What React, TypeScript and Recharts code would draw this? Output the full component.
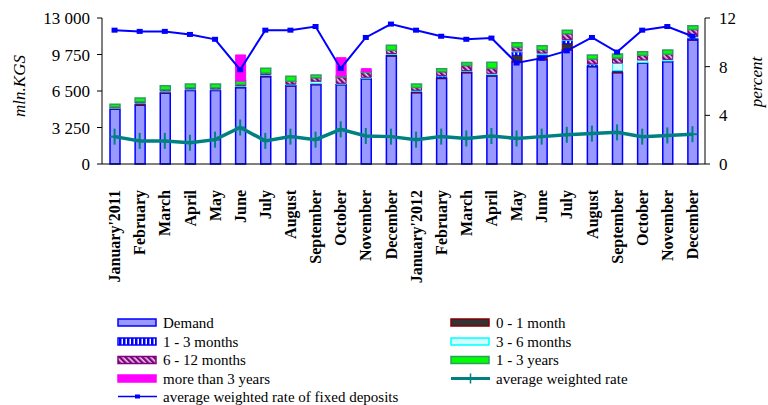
import { Bar, ComposedChart, Line, XAxis, YAxis } from "recharts";

const MONTHS = [
  "January'2011", "February", "March", "April", "May", "June", "July", "August",
  "September", "October", "November", "December",
  "January'2012", "February", "March", "April", "May", "June", "July", "August",
  "September", "October", "November", "December",
];

// mln. KGS
const DEMAND = [4870, 5230, 6300, 6540, 6540, 6795, 7775, 6945, 7060, 7050, 7580, 9616, 6350, 7620, 8130, 7835, 9080, 9290, 10150, 8665, 8130, 8965, 9110, 11040];
const M0_1 = [40, 120, 90, 40, 40, 60, 60, 60, 60, 30, 30, 100, 100, 60, 90, 90, 600, 380, 560, 30, 150, 30, 30, 30];
const M1_3 = [30, 30, 30, 30, 30, 40, 40, 30, 30, 30, 30, 30, 30, 150, 30, 30, 300, 60, 300, 150, 30, 30, 30, 150];
const M3_6 = [60, 60, 90, 80, 70, 80, 80, 80, 220, 80, 90, 90, 90, 60, 60, 120, 90, 150, 60, 60, 680, 240, 150, 150];
const M6_12 = [80, 110, 100, 100, 100, 100, 150, 260, 300, 550, 420, 300, 250, 320, 450, 450, 350, 300, 530, 450, 445, 420, 450, 600];
const Y1_3 = [240, 330, 365, 330, 340, 315, 415, 445, 255, 95, 90, 430, 303, 280, 280, 525, 380, 355, 300, 350, 360, 315, 380, 330];
const Y3_PLUS = [0, 0, 0, 0, 0, 2320, 0, 0, 0, 1630, 250, 0, 0, 0, 0, 0, 0, 0, 0, 0, 0, 0, 0, 0];

// percent
const FIXED_RATE = [11.0, 10.9, 10.9, 10.65, 10.25, 7.75, 11.0, 11.0, 11.3, 7.85, 10.4, 11.5, 11.0, 10.5, 10.25, 10.35, 8.3, 8.7, 9.3, 10.4, 9.2, 11.0, 11.3, 10.5];
const AVG_RATE = [2.25, 1.9, 1.9, 1.75, 2.0, 3.0, 1.9, 2.25, 2.0, 2.85, 2.3, 2.25, 2.0, 2.25, 2.1, 2.3, 2.1, 2.25, 2.4, 2.5, 2.6, 2.25, 2.35, 2.45];

const LEFT_TICKS = [0, 3250, 6500, 9750, 13000];
const RIGHT_TICKS = [0, 2, 4, 6, 8, 10, 12];
const EDGE_TICKS = MONTHS.map((_, i) => i).concat(MONTHS.length);

const data = MONTHS.map((month, i) => ({
  month,
  idx: i + 0.5,
  demand: DEMAND[i],
  m01: M0_1[i],
  m13: M1_3[i],
  m36: M3_6[i],
  m612: M6_12[i],
  y13: Y1_3[i],
  y3: Y3_PLUS[i],
  fixed: FIXED_RATE[i],
  avg: AVG_RATE[i],
}));

const SERIF = "'Liberation Serif', 'Times New Roman', serif";
const fmt = (v: number) => String(v).replace(/\B(?=(\d{3})+(?!\d))/g, " ");

function Patterns({ p }: { p: string }) {
  return (
    <defs>
      <pattern id={`${p}m13`} width="4" height="4" patternUnits="userSpaceOnUse">
        <rect width="4" height="4" fill="#0000FF" />
        <rect x="1.5" width="1.5" height="4" fill="#FFFFFF" />
      </pattern>
      <pattern id={`${p}m612`} width="4" height="4" patternUnits="userSpaceOnUse" patternTransform="rotate(-45)">
        <rect width="4" height="4" fill="#800080" />
        <rect x="1.5" width="1.3" height="4" fill="#FFFFFF" />
      </pattern>
    </defs>
  );
}

function MonthTick({ x, y, payload }: any) {
  const ty = y + 18;
  return (
    <text x={x} y={ty} transform={`rotate(-90 ${x} ${ty})`} textAnchor="end" dy="0.35em"
      fontFamily={SERIF} fontWeight="bold" fontSize={16} fill="#000">
      {payload.value}
    </text>
  );
}

function SquareDot({ cx, cy }: any) {
  if (cx == null || cy == null) return null;
  return <rect x={cx - 3} y={cy - 2.5} width={6} height={5} fill="#0000FF" />;
}

function CrossDot({ cx, cy }: any) {
  if (cx == null || cy == null) return null;
  return (
    <g stroke="#008080" strokeWidth={2}>
      <line x1={cx} x2={cx} y1={cy - 8} y2={cy + 8} />
      <line x1={cx - 5} x2={cx + 5} y1={cy} y2={cy} />
    </g>
  );
}

const LEGEND_LEFT = [
  { name: "Demand", fill: "#9999FF", stroke: "#0000FF" },
  { name: "1 - 3 months", fill: "url(#lgm13)", stroke: "#0000FF" },
  { name: "6 - 12 months", fill: "url(#lgm612)", stroke: "#800080" },
  { name: "more than 3 years", fill: "#FF00FF", stroke: "#FF00FF" },
  { name: "average weighted rate of fixed deposits", line: "fixed" },
];
const LEGEND_RIGHT = [
  { name: "0 - 1 month", fill: "#333333", stroke: "#800000" },
  { name: "3 - 6 months", fill: "#CCFFFF", stroke: "#00FFFF" },
  { name: "1 - 3 years", fill: "#00FF00", stroke: "#339966" },
  { name: "average weighted rate", line: "avg" },
];
const ROW_Y = [322.5, 341.5, 360, 378.5, 396.5];

function LegendItem({ item, x, y }: { item: any; x: number; y: number }) {
  let mark;
  if (item.line === "fixed") {
    mark = (
      <g>
        <line x1={x} x2={x + 39} y1={y} y2={y} stroke="#0000FF" strokeWidth={1.5} />
        <rect x={x + 17} y={y - 2} width={5} height={4} fill="#0000FF" />
      </g>
    );
  } else if (item.line === "avg") {
    mark = (
      <g stroke="#008080">
        <line x1={x} x2={x + 39} y1={y} y2={y} strokeWidth={3} />
        <line x1={x + 19.5} x2={x + 19.5} y1={y - 5} y2={y + 5} strokeWidth={1.5} />
      </g>
    );
  } else {
    mark = <rect x={x} y={y - 3.5} width={38} height={7} fill={item.fill} stroke={item.stroke} strokeWidth={1.5} />;
  }
  return (
    <g>
      {mark}
      <text x={x + 45} y={y + 5} fontFamily={SERIF} fontSize={15} fill="#000">{item.name}</text>
    </g>
  );
}

export default function App() {
  return (
    <div style={{ position: "absolute", left: 0, top: 0, width: 768, height: 405, background: "#fff" }}>
      <ComposedChart width={768} height={405} data={data} margin={{ top: 18, right: 0, bottom: 239, left: 0 }} barSize={10}>
        <Patterns p="ch" />
        <XAxis xAxisId="cat" dataKey="month" interval={0} height={1} tick={<MonthTick />}
          tickLine={false} axisLine={{ stroke: "#000" }} />
        <XAxis xAxisId="edge" dataKey="idx" type="number" domain={[0, MONTHS.length]} ticks={EDGE_TICKS}
          height={1} tick={false} tickSize={5} tickLine={{ stroke: "#000" }} axisLine={false} />
        <YAxis yAxisId="l" width={102} domain={[0, 13000]} ticks={LEFT_TICKS} tickFormatter={fmt}
          tickSize={5} tickMargin={7} stroke="#000"
          tick={{ fontFamily: SERIF, fontSize: 17, fill: "#000" }} />
        <YAxis yAxisId="r" orientation="right" width={63} domain={[0, 12]} ticks={RIGHT_TICKS}
          tickSize={5} tickMargin={9} stroke="#000"
          tick={{ fontFamily: SERIF, fontSize: 17, fill: "#000" }} />
        <Bar xAxisId="cat" yAxisId="l" dataKey="demand" stackId="a" fill="#9999FF" stroke="#0000FF" strokeWidth={1.5} isAnimationActive={false} />
        <Bar xAxisId="cat" yAxisId="l" dataKey="m01" stackId="a" fill="#333333" stroke="#800000" strokeWidth={1} isAnimationActive={false} />
        <Bar xAxisId="cat" yAxisId="l" dataKey="m13" stackId="a" fill="url(#chm13)" stroke="#0000FF" strokeWidth={1} isAnimationActive={false} />
        <Bar xAxisId="cat" yAxisId="l" dataKey="m36" stackId="a" fill="#CCFFFF" stroke="#00FFFF" strokeWidth={1} isAnimationActive={false} />
        <Bar xAxisId="cat" yAxisId="l" dataKey="m612" stackId="a" fill="url(#chm612)" stroke="#800080" strokeWidth={1} isAnimationActive={false} />
        <Bar xAxisId="cat" yAxisId="l" dataKey="y13" stackId="a" fill="#00FF00" stroke="#339966" strokeWidth={1.5} isAnimationActive={false} />
        <Bar xAxisId="cat" yAxisId="l" dataKey="y3" stackId="a" fill="#FF00FF" stroke="#FF00FF" strokeWidth={1} isAnimationActive={false} />
        <Line xAxisId="cat" yAxisId="r" dataKey="avg" stroke="#008080" strokeWidth={3.5} dot={<CrossDot />} activeDot={false} isAnimationActive={false} />
        <Line xAxisId="cat" yAxisId="r" dataKey="fixed" stroke="#0000FF" strokeWidth={2} dot={<SquareDot />} activeDot={false} isAnimationActive={false} />
      </ComposedChart>
      <svg width={768} height={405} style={{ position: "absolute", left: 0, top: 0, pointerEvents: "none" }}>
        <Patterns p="lg" />
        <text x={19} y={86} transform="rotate(-90 19 86)" textAnchor="middle" dy="0.35em"
          fontFamily={SERIF} fontStyle="italic" fontSize={17} fill="#000">mln.KGS</text>
        <text x={756} y={82} transform="rotate(-90 756 82)" textAnchor="middle" dy="0.35em"
          fontFamily={SERIF} fontStyle="italic" fontSize={17} fill="#000">percent</text>
        {LEGEND_LEFT.map((item, i) => <LegendItem key={item.name} item={item} x={118} y={ROW_Y[i]} />)}
        {LEGEND_RIGHT.map((item, i) => <LegendItem key={item.name} item={item} x={451} y={ROW_Y[i]} />)}
      </svg>
    </div>
  );
}
